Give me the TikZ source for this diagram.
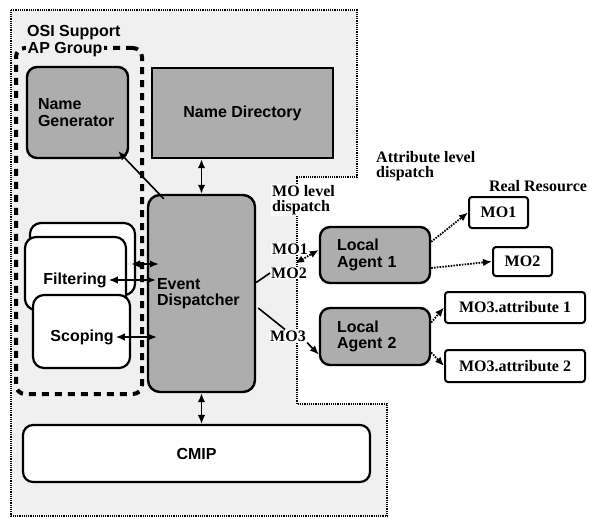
\documentclass[tikz,border=0pt]{standalone}
\usepackage{fontspec}
\setmainfont{Liberation Serif}
\setsansfont{Liberation Sans}
\usetikzlibrary{arrows.meta,calc}
\definecolor{stipple}{gray}{0.68}
\definecolor{bgfill}{gray}{0.94}

\begin{document}
\begin{tikzpicture}[x=1pt, y=-1pt, >={Latex[length=9pt,width=7.5pt]},
    sfont/.style={font=\fontsize{16}{16.5}\selectfont\sffamily\bfseries},
    rfont/.style={font=\fontsize{16}{15.5}\selectfont\rmfamily\bfseries},
    block/.style={rectangle, draw, line width=2.4pt, fill=stipple, rounded corners=10pt, sfont, inner sep=0pt},
    plain/.style={rectangle, draw, line width=2.2pt, fill=white, rounded corners=11pt, inner sep=0pt},
    res/.style={rectangle, draw, line width=2pt, fill=white, rounded corners=3pt, rfont, inner sep=0pt},
    molab/.style={rfont, fill=white, inner sep=1pt},
    descr/.style={rfont, align=left, inner sep=0pt},
    line/.style={draw, line width=1.6pt},
    dline/.style={draw, <->, line width=1.6pt},
    rline/.style={draw, ->, line width=1.8pt, dash pattern=on 1.6pt off 1.2pt}]

    \useasboundingbox (0,0) rectangle (589,519);

    \path [draw, fill=bgfill, line width=1.2pt, dash pattern=on 1.2pt off 1pt]
        (11,10) -- (357,10) -- (357,177) -- (297,177) -- (297,404) -- (387,404) -- (387,516) -- (11,516) -- cycle;

    \node [draw, line width=4pt, dash pattern=on 7pt off 6pt, rounded corners=9pt, minimum width=126, minimum height=346] (grp) at (79,221) {};
    \node [sfont, anchor=west, inner sep=1pt] (osi) at (26,33) {OSI Support};
    \node [sfont, anchor=west, fill=bgfill, inner sep=1.5pt] (apg) at (26,50) {AP Group};

    \node [block, minimum width=101, minimum height=91, text width=79, align=left] (ng) at (77.5,112.5) {Name\\Generator};
    \node [block, rounded corners=0pt, minimum width=181, minimum height=90] (nd) at (242.5,113) {Name Directory};
    \node [block, rounded corners=12pt, minimum width=107, minimum height=197, text width=89, align=left] (ed) at (201.5,293.5) {Event\\Dispatcher};

    \node [plain, minimum width=105, minimum height=72] (filtback) at (82.5,259) {};
    \node [plain, minimum width=101, minimum height=73] (filtbox) at (75.5,273.5) {};
    \node [plain, minimum width=97, minimum height=73] (scopbox) at (81.5,331.5) {};
    \node [sfont, inner sep=2pt] (filt) at (75,280) {Filtering};
    \node [sfont, inner sep=2pt] (scop) at (82,337) {Scoping};

    \node [plain, sfont, rounded corners=10pt, minimum width=347, minimum height=57] (cmip) at (196.5,453.5) {CMIP};

    \node [block, minimum width=110, minimum height=56, text width=76, align=left] (la1) at (375,255) {Local\\Agent 1};
    \node [block, minimum width=110, minimum height=57, text width=76, align=left] (la2) at (375,336.5) {Local\\Agent 2};

    \node [res, minimum width=59, minimum height=31] (mo1) at (498.5,212.5) {MO1};
    \node [res, minimum width=59, minimum height=29] (mo2) at (522.5,261.5) {MO2};
    \node [res, minimum width=140, minimum height=31] (attr1) at (515,307.5) {MO3.attribute 1};
    \node [res, minimum width=140, minimum height=32] (attr2) at (515,366) {MO3.attribute 2};

    \node [descr, anchor=west] (attrdisp) at (376,166) {Attribute level\\dispatch};
    \node [descr, anchor=west, fill=white, inner sep=1pt] (modisp) at (271,200) {MO level\\dispatch};
    \node [rfont, inner sep=0pt] (realres) at (538,186) {Real Resource};
    \node [molab] (mo1lab) at (290,249) {MO1};
    \node [molab] (mo2lab) at (289,273) {MO2};
    \node [molab] (mo3lab) at (288,336) {MO3};

    \path [dline] (nd.south -| ed.north) -- (ed.north);
    \path [dline] (ed.south) -- (ed.south |- cmip.north);
    \path [line, ->] ($(ed.north west)+(17,5)$) -- ($(ng.south east)+(-11,-8)$);
    \path [dline] ($(filtback.east)+(-5,5)$) -- ($(ed.west |- filtback.east)+(12,5)$);
    \path [dline] (filt.east) -- ($(filt.east -| ed.west)+(9,0)$);
    \path [dline] (scop.east) -- ($(scop.east -| ed.west)+(10,0)$);
    \path [line] ($(ed.east)+(0,-11)$) -- (mo2lab.west);
    \path [rline, <->] ($(mo2lab.north)+(6,-3)$) -- ($(la1.west)+(0,-5)$);
    \path [line] ($(ed.east)+(2,14.5)$) -- ($(mo3lab.north)+(-3,0)$);
    \path [line, ->] (mo3lab.south east) -- ($(la2.west)+(0,18)$);
    \path [rline] ($(la1.north east)+(0,16)$) -- (mo1.west);
    \path [rline] ($(la1.east)+(0,13)$) -- (mo2.west);
    \path [rline] ($(la2.east)+(0,-14)$) -- (attr1.west);
    \path [rline] ($(la2.east)+(0,16)$) -- (attr2.west);
\end{tikzpicture}
\end{document}
